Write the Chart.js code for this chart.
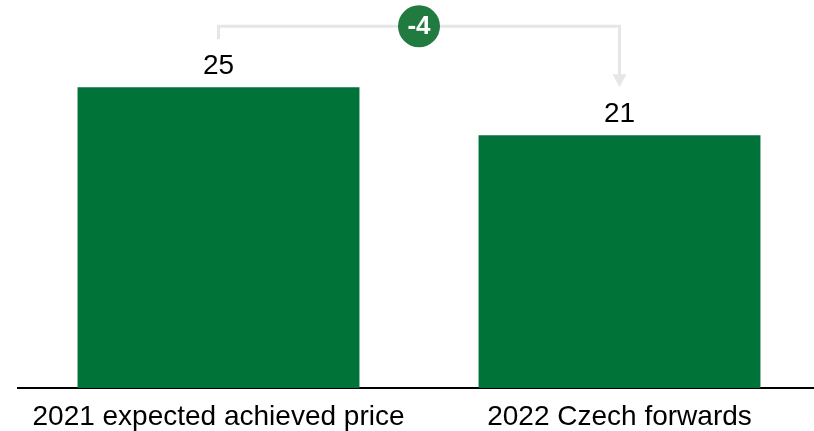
<!DOCTYPE html>
<html>
<head>
<meta charset="utf-8">
<script src="https://cdn.jsdelivr.net/npm/chart.js@4/dist/chart.umd.min.js"></script>
<style>
  html, body { margin: 0; padding: 0; background: #fff; overflow: hidden; }
  canvas { display: block; }
</style>
</head>
<body>
<canvas id="myChart" width="820" height="431"></canvas>
<script>
const categories = ['2021 expected achieved price', '2022 Czech forwards'];
const values = [25, 21];
const deltaLabel = String(values[1] - values[0]);

const barGreen = '#007338';
const badgeGreen = '#217a3f';
const bracketGrey = '#e6e6e6';

// value labels above bars + bracket with arrow and delta badge
const annotate = {
    id: 'annotate',
    afterDatasetsDraw(chart) {
        const ctx = chart.ctx;
        const meta = chart.getDatasetMeta(0);
        ctx.save();
        ctx.font = '28px "Liberation Sans", Arial, sans-serif';
        ctx.fillStyle = '#000';
        ctx.textAlign = 'center';
        ctx.textBaseline = 'alphabetic';
        meta.data.forEach((bar, i) => {
            ctx.fillText(String(values[i]), bar.x, bar.y - 13);
        });

        const a = meta.data[0], b = meta.data[1];
        const leftBottom = a.y - 48;
        const topY = leftBottom - 13;
        const tipY = a.y;
        ctx.strokeStyle = bracketGrey;
        ctx.lineWidth = 3;
        ctx.beginPath();
        ctx.moveTo(a.x, leftBottom);
        ctx.lineTo(a.x, topY);
        ctx.lineTo(b.x, topY);
        ctx.lineTo(b.x, tipY - 12);
        ctx.stroke();
        ctx.fillStyle = bracketGrey;
        ctx.beginPath();
        ctx.moveTo(b.x - 7, tipY - 13);
        ctx.lineTo(b.x + 7, tipY - 13);
        ctx.lineTo(b.x, tipY);
        ctx.closePath();
        ctx.fill();

        const cx = (a.x + b.x) / 2;
        ctx.fillStyle = badgeGreen;
        ctx.beginPath();
        ctx.arc(cx, topY, 21, 0, Math.PI * 2);
        ctx.fill();
        ctx.fillStyle = '#fff';
        ctx.font = 'bold 26px "Liberation Sans", Arial, sans-serif';
        ctx.textBaseline = 'middle';
        ctx.fillText(deltaLabel, cx, topY + 1);
        ctx.restore();
    }
};

new Chart(document.getElementById('myChart'), {
    type: 'bar',
    data: {
        labels: categories,
        datasets: [{
            data: values,
            backgroundColor: barGreen,
            borderWidth: 0,
            categoryPercentage: 1,
            barPercentage: 0.703
        }]
    },
    options: {
        responsive: false,
        animation: false,
        layout: { padding: { left: 18, right: 0, top: 0, bottom: -7 } },
        plugins: { legend: { display: false }, tooltip: { enabled: false } },
        scales: {
            x: {
                grid: { display: false },
                border: { display: true, color: '#000', width: 2 },
                ticks: {
                    color: '#000',
                    padding: 7,
                    maxRotation: 0,
                    font: { family: '"Liberation Sans", Arial, sans-serif', size: 28, lineHeight: 1 }
                }
            },
            y: {
                display: false,
                min: 0,
                max: 32.25
            }
        }
    },
    plugins: [annotate]
});
</script>
</body>
</html>
